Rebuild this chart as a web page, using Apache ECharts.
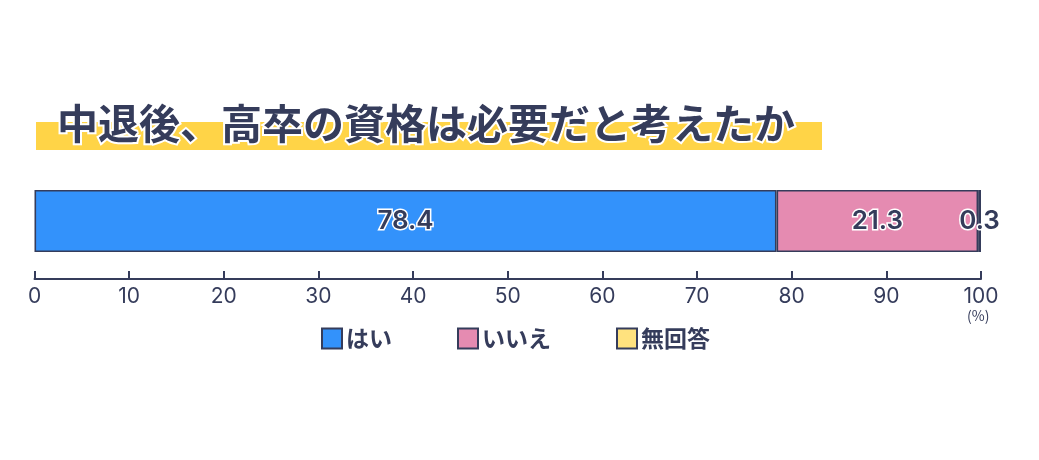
<!DOCTYPE html>
<html><head><meta charset="utf-8">
<script src="https://cdn.jsdelivr.net/npm/echarts@6/dist/echarts.min.js"></script>
<style>html,body{margin:0;padding:0;background:#fff}#c{width:1039px;height:460px}</style>
</head><body><div id="c"></div>
<script>
const titleText = '中退後、高卒の資格は必要だと考えたか';
const categories = ['はい', 'いいえ', '無回答'];
const values = [78.4, 21.3, 0.3];
const colors = ['#3392fb', '#e58bb1', '#ffe27e'];
const tickValues = [0, 10, 20, 30, 40, 50, 60, 70, 80, 90, 100];
const unitLabel = '(%)';

const NAVY = '#353c5b';
const FONT = '"Noto Sans CJK JP", "Noto Sans", sans-serif';
const chart = echarts.init(document.getElementById('c'));
chart.setOption({
  animation: false,
  textStyle: { fontFamily: FONT },
  title: {
    text: titleText,
    left: 52, top: 98,
    textStyle: { fontSize: 41, fontWeight: 'bold', color: NAVY, fontFamily: FONT,
      textBorderColor: '#fff', textBorderWidth: 4 }
  },
  graphic: [
    { type: 'rect', z: -1, shape: { x: 36, y: 122, width: 786, height: 28 }, style: { fill: '#ffd447' } },
    { type: 'text', left: 967, top: 309, style: { text: unitLabel, fontSize: 14, fill: NAVY, fontFamily: FONT } }
  ],
  legend: {
    left: 316, top: 322,
    itemWidth: 20, itemHeight: 20, itemGap: 65,
    icon: 'rect',
    data: categories,
    textStyle: { fontSize: 23, fontWeight: 'bold', color: NAVY, fontFamily: FONT, padding: [0, 0, 0, -1] }
  },
  grid: { left: 34.5, right: 58, top: 189, height: 64 },
  xAxis: {
    type: 'value', min: 0, max: 100, interval: 10,
    offset: 26,
    axisLine: { show: true, lineStyle: { color: NAVY, width: 2 } },
    axisTick: { show: true, inside: true, length: 8, lineStyle: { color: NAVY, width: 2 } },
    splitLine: { show: false },
    axisLabel: { margin: 7, fontSize: 21, color: NAVY, fontFamily: '"Inter", "Noto Sans", sans-serif',
      formatter: v => tickValues.includes(v) ? String(v) : '' }
  },
  yAxis: { type: 'category', data: [''], show: false },
  series: categories.map((name, i) => ({
    name, type: 'bar', stack: 'total', barWidth: 62,
    data: [values[i]],
    itemStyle: { color: colors[i], borderColor: NAVY, borderWidth: 1.6 },
    label: { show: true, position: 'inside', formatter: p => p.value.toFixed(1),
      fontSize: 26, color: NAVY, fontFamily: '"Inter", "Noto Sans", sans-serif', fontWeight: 600,
      textBorderColor: '#fff', textBorderWidth: 3 }
  }))
});
</script></body></html>
